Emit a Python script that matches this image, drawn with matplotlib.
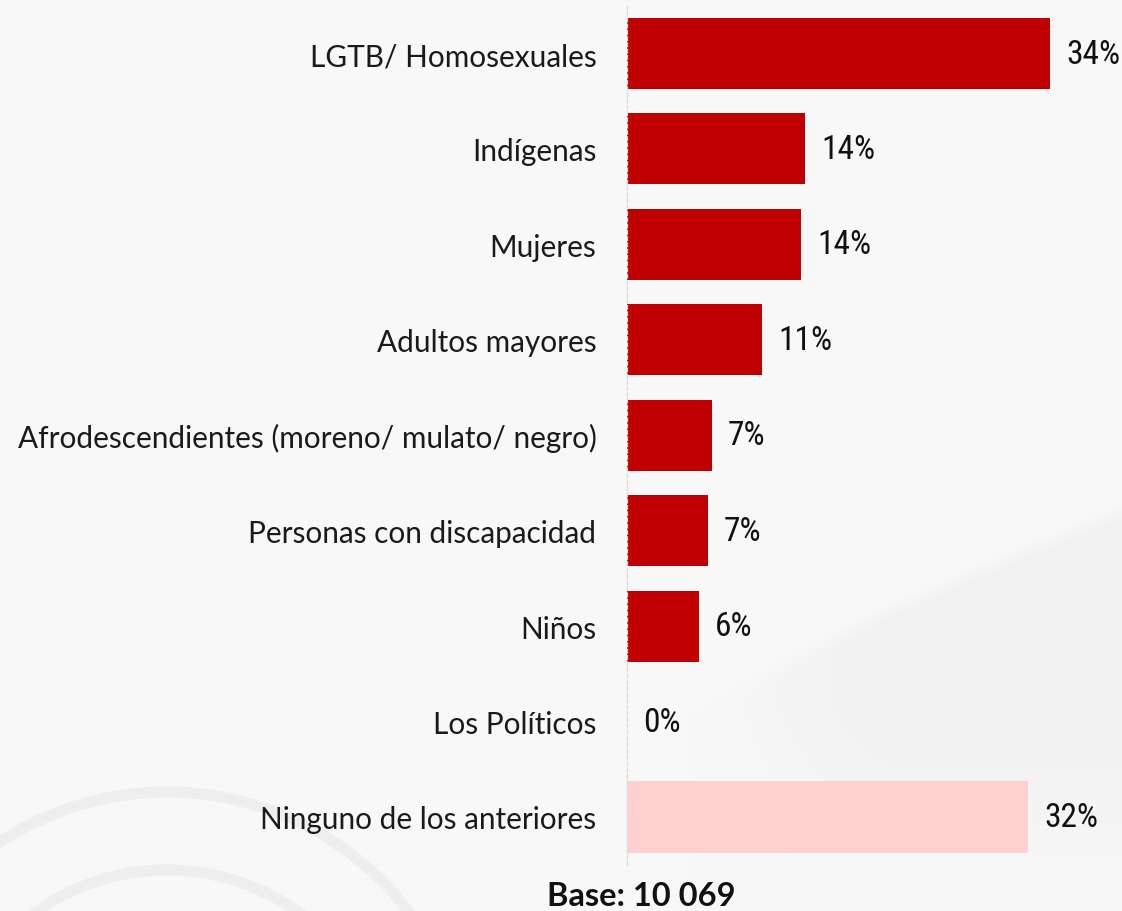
import numpy as np
import matplotlib
matplotlib.use("Agg")
import matplotlib.pyplot as plt
from matplotlib import font_manager as fm
from matplotlib.patches import Circle

categories = [
    "LGTB/ Homosexuales",
    "Indígenas",
    "Mujeres",
    "Adultos mayores",
    "Afrodescendientes (moreno/ mulato/ negro)",
    "Personas con discapacidad",
    "Niños",
    "Los Políticos",
    "Ninguno de los anteriores",
]
values = [34.25, 14.41, 14.09, 10.93, 6.88, 6.56, 5.83, 0.0, 32.49]
bar_colors = ["#c00000"] * 8 + ["#ffd0d0"]
base_note = "Base: 10 069"

W, H = 1122, 912
bg = "#f9f8f9"

# pick a narrow face for the percentage labels if one is installed
fonts = fm.fontManager.ttflist
names = {f.name for f in fonts}
num_kw = dict(family=["Liberation Sans", "DejaVu Sans"], fontsize=19)
for cand in ("Liberation Sans Narrow", "Arial Narrow", "Roboto Condensed", "Open Sans Condensed"):
    if cand in names:
        num_kw = dict(family=[cand, "DejaVu Sans"], fontsize=24, fontweight=400)
        break
else:
    if any(f.name == "DejaVu Sans" and f.stretch in ("condensed", "semi-condensed") for f in fonts):
        num_kw = dict(family=["DejaVu Sans"], fontstretch="condensed", fontsize=19.5)

fig = plt.figure(figsize=(W / 100, H / 100), dpi=100, facecolor=bg)

# background layer in pixel coordinates: soft swoosh and faint rings
deco = fig.add_axes([0, 0, 1, 1], zorder=0)
deco.axis("off")
gx, gy = np.meshgrid(np.arange(W), np.arange(H))
curve = 712 - np.clip(gx - 700, 0, None) ** 0.82 * 1.46
shade = (np.clip((gy - curve) / 18, 0, 1)
         * np.clip((gx - 690) / 200, 0, 1)
         * np.clip((910 - gy) / 200, 0, 1))
base_rgb = np.array([0xf9, 0xf8, 0xf9]) / 255
img = np.ones((H, W, 3)) * base_rgb - shade[..., None] * (7 / 255)
deco.imshow(img, extent=(0, W, H, 0), interpolation="bilinear", zorder=0)
for r in (304, 226):
    deco.add_patch(Circle((167, 1097), r, fill=False, lw=8, ec="#efedef", zorder=1))
deco.set_xlim(0, W)
deco.set_ylim(H, 0)

# main bar chart
ax_left, ax_top, ax_bot = 627, 6.8, 865.7
x_max = 40
px_per_unit = 12.35
ax = fig.add_axes([ax_left / W, 1 - ax_bot / H, x_max * px_per_unit / W, (ax_bot - ax_top) / H], zorder=1)
ax.patch.set_alpha(0)
y = np.arange(len(categories))
ax.barh(y, values, height=0.745, color=bar_colors, zorder=2)
ax.set_ylim(len(categories) - 0.5, -0.5)
ax.set_xlim(0, x_max)
for s in ("top", "right", "bottom"):
    ax.spines[s].set_visible(False)
ax.spines["left"].set_color("#d9d9d9")
ax.spines["left"].set_linestyle((0, (3, 2)))
ax.spines["left"].set_linewidth(0.9)
ax.set_xticks([])
ax.set_yticks(y)
ax.set_yticklabels(categories, fontsize=21.4, family=["Lato", "DejaVu Sans"], color="#1a1a1a")
ax.tick_params(axis="y", length=0, pad=22)

for yi, v in zip(y, values):
    ax.annotate(f"{v:.0f}%", (v, yi), xytext=(11.5, 0), textcoords="offset points",
                va="center", ha="left", color="#111111", annotation_clip=False, **num_kw)

fig.text(641 / W, 1 - 897 / H, base_note, ha="center", va="center", fontsize=23.5,
         fontweight="bold", family=["Lato", "DejaVu Sans"], color="#111111")

fig.savefig("out.png", dpi=100, facecolor=bg)
